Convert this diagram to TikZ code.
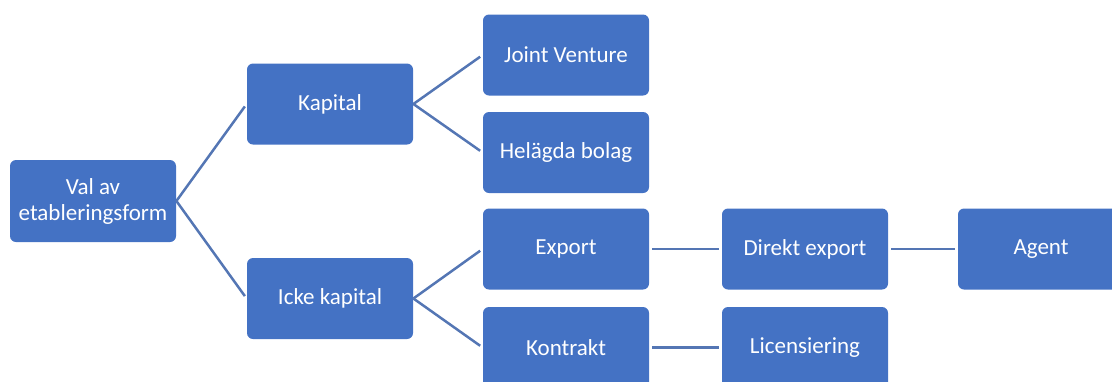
\documentclass[tikz,border=0pt]{standalone}
\usepackage{fontspec}
\setmainfont{Carlito}
\usepackage{xcolor}
\usepackage{tikz}
\usetikzlibrary{calc}

\definecolor{boxblue}{RGB}{68,114,196}
\definecolor{lineblue}{RGB}{84,118,180}

\begin{document}
\begin{tikzpicture}[x=0.5pt, y=-0.5pt,
    formbox/.style={draw=none, fill=boxblue, rounded corners=3pt,
        minimum width=83pt, minimum height=40.5pt, text=white,
        font=\fontsize{11.5}{13}\selectfont, align=center, inner sep=2pt},
    link/.style={draw=lineblue, line width=1.25pt, shorten >=1.5pt}]
        % Define the page
        \useasboundingbox (0,0) rectangle (1112,381);
        
        % Root
        \node[formbox, minimum height=41pt] (val) at (93,201) {Val av\\etableringsform};
        
        % First level
        \node[formbox] (kapital) at (330,104) {Kapital};
        \node[formbox] (icke) at (330,298.5) {Icke kapital};
        
        % Second level
        \node[formbox] (joint) at (566,55) {Joint Venture};
        \node[formbox] (helagda) at (566,152.5) {Helägda bolag};
        \node[formbox] (export) at (566,249) {Export};
        \node[formbox] (kontrakt) at (566,347.5) {Kontrakt};
        
        % Third and fourth level
        \node[formbox] (direkt) at (805,249) {Direkt export};
        \node[formbox] (licens) at (805,347.5) {Licensiering};
        \node[formbox] (agent) at (1041,249) {Agent};
        
        % Connect the boxes
        \draw[link] (val.east) -- (kapital.west);
        \draw[link] (val.east) -- (icke.west);
        \draw[link] (kapital.east) -- (joint.west);
        \draw[link] (kapital.east) -- (helagda.west);
        \draw[link] (icke.east) -- (export.west);
        \draw[link] (icke.east) -- (kontrakt.west);
        \draw[link, shorten <=1.5pt] (export.east) -- (direkt.west);
        \draw[link, shorten <=1.5pt] (kontrakt.east) -- (licens.west);
        \draw[link, shorten <=1.5pt] (direkt.east) -- (agent.west);
    \end{tikzpicture}
\end{document}
